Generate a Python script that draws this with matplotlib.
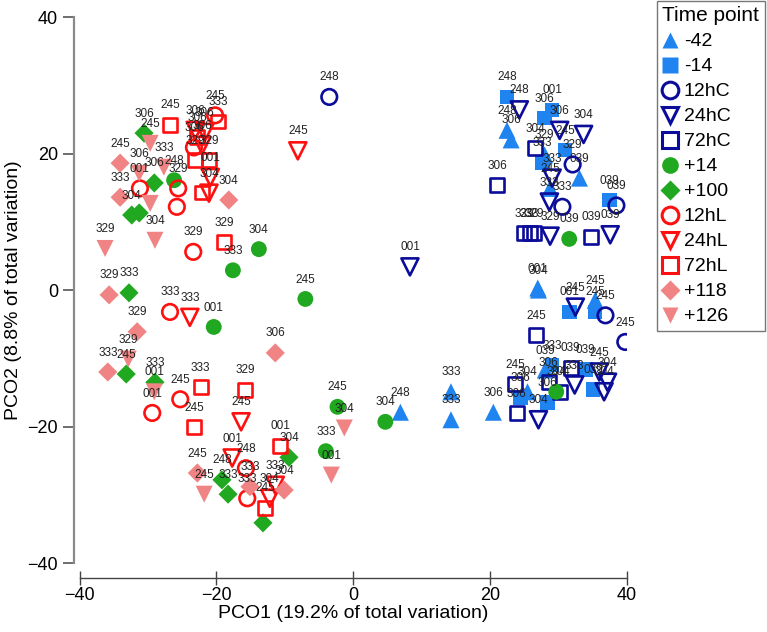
import matplotlib.pyplot as plt
from matplotlib.lines import Line2D

plt.rcParams['font.family'] = ['Liberation Sans', 'DejaVu Sans']

# -42 (filled blue triangles)
m42_x = [22.5, 23.1, 28.0, 33.1, 28.8, 27.1, 27.0, 35.4, 14.3, 14.3, 6.9, 20.5, 28.1, 25.5]
m42_y = [23.4, 22.0, 19.8, 16.4, 14.9, 0.0, 0.3, -1.5, -14.9, -19.0, -17.9, -17.9, -11.7, -14.9]
m42_lab = ['248', '306', '329', '039', '245', '304', '001', '245', '333', '333', '248', '306', '039', '304']

# -14 (filled blue squares)
m14_x = [22.5, 28.0, 29.1, 27.7, 31.0, 31.6, 35.4, 37.5, 29.1, 34.0, 35.1, 28.4, 24.5]
m14_y = [28.3, 25.2, 26.4, 18.7, 20.5, -3.2, -3.2, 13.2, -11.0, -11.6, -14.6, -16.5, -15.7]
m14_lab = ['248', '306', '001', '333', '245', '001', '245', '039', '333', '039', '039', '306', '306']

# 12hC (open navy circles)
c12_x = [-3.5, 32.1, 30.6, 38.5, 36.9, 39.8]
c12_y = [28.3, 18.4, 12.2, 12.4, -3.7, -7.6]
c12_lab = ['248', '329', '333', '039', '245', '245']

# 24hC (open navy down triangles)
c24_x = [24.3, 30.2, 33.7, 29.1, 28.7, 28.8, 37.6, 8.3, 32.5, 32.4, 36.0, 37.2, 36.7, 27.1]
c24_y = [26.4, 23.4, 22.8, 16.4, 12.9, 7.9, 8.1, 3.4, -2.5, -13.9, -12.0, -13.5, -14.9, -19.0]
c24_lab = ['248', '306', '304', '333', '333', '329', '039', '001', '245', '333', '245', '304', '304', '304']

# 72hC (open navy squares)
c72_x = [26.6, 21.1, 25.0, 25.8, 26.5, 34.8, 26.8, 28.6, 31.8, 30.3, 23.7, 23.9]
c72_y = [20.8, 15.4, 8.3, 8.3, 8.3, 7.8, -6.6, -13.5, -11.4, -14.9, -13.8, -18.0]
c72_lab = ['304', '306', '329', '333', '329', '039', '245', '306', '039', '304', '245', '306']

# +14 (filled green circles)
p14_x = [-26.2, -13.8, -17.6, -7.0, -20.4, -2.3, -4.0, 4.7, 31.6, 29.7]
p14_y = [16.1, 6.0, 2.9, -1.3, -5.4, -17.1, -23.6, -19.3, 7.5, -14.9]
p14_lab = ['248', '304', '333', '245', '001', '245', '333', '304', '039', '304']

# +100 (filled green diamonds)
p100_x = [-30.6, -29.1, -32.4, -31.3, -32.8, -33.2, -29.0, -9.4, -19.2, -18.3, -13.2]
p100_y = [23.0, 15.7, 11.0, 11.3, -0.4, -12.3, -13.5, -24.5, -27.8, -29.9, -34.1]
p100_lab = ['306', '306', '304', '', '333', '245', '333', '304', '248', '333', '']

# 12hL (open red circles)
l12_x = [-20.2, -23.3, -25.6, -25.8, -31.2, -23.4, -26.8, -25.3, -29.4, -15.7, -15.5]
l12_y = [25.6, 20.9, 14.9, 12.2, 14.9, 5.6, -3.2, -16.0, -18.0, -26.1, -30.5]
l12_lab = ['245', '306', '329', '', '001', '329', '333', '245', '001', '248', '333']

# 24hL (open red down triangles)
l24_x = [-23.1, -21.7, -22.1, -20.9, -21.1, -8.1, -23.9, -16.4, -17.7, -11.4, -12.2]
l24_y = [23.4, 23.1, 21.2, 16.5, 14.2, 20.4, -4.0, -19.3, -24.6, -28.6, -30.5]
l24_lab = ['306', '306', '306', '001', '304', '245', '333', '245', '001', '333', '304']

# 72hL (open red squares)
l72_x = [-26.8, -19.8, -22.8, -23.1, -21.1, -22.1, -18.9, -22.3, -15.8, -23.3, -10.7, -12.9]
l72_y = [24.2, 24.7, 22.4, 19.0, 19.0, 14.3, 7.0, -14.2, -14.6, -20.1, -22.8, -31.9]
l72_lab = ['245', '333', '306', '329', '329', '', '329', '333', '329', '245', '001', '245']

# +118 (filled pink diamonds)
p118_x = [-34.1, -34.1, -18.2, -35.7, -31.6, -35.9, -11.4, -22.8, -15.1, -10.1]
p118_y = [18.6, 13.6, 13.2, -0.7, -6.1, -12.0, -9.2, -26.8, -28.8, -29.3]
p118_lab = ['245', '333', '304', '329', '329', '333', '306', '245', '333', '304']

# +126 (filled pink down triangles)
p126_x = [-29.7, -31.3, -27.7, -29.7, -29.0, -36.3, -32.9, -29.1, -21.8, -1.3, -3.2]
p126_y = [21.5, 17.1, 18.0, 12.7, 7.3, 6.1, -10.1, -14.9, -29.9, -20.2, -27.1]
p126_lab = ['245', '306', '333', '', '304', '329', '329', '001', '245', '304', '001']

blue = '#1f84f0'
navy = '#0c0c9a'
green = '#20a820'
red = '#ff1010'
pink = '#f08484'

groups = [
    ('-42', m42_x, m42_y, m42_lab, '^', blue, True, 150),
    ('-14', m14_x, m14_y, m14_lab, 's', blue, True, 110),
    ('12hC', c12_x, c12_y, c12_lab, 'o', navy, False, 125),
    ('24hC', c24_x, c24_y, c24_lab, 'v', navy, False, 150),
    ('72hC', c72_x, c72_y, c72_lab, 's', navy, False, 100),
    ('+14', p14_x, p14_y, p14_lab, 'o', green, True, 130),
    ('+100', p100_x, p100_y, p100_lab, 'D', green, True, 95),
    ('12hL', l12_x, l12_y, l12_lab, 'o', red, False, 125),
    ('24hL', l24_x, l24_y, l24_lab, 'v', red, False, 150),
    ('72hL', l72_x, l72_y, l72_lab, 's', red, False, 100),
    ('+118', p118_x, p118_y, p118_lab, 'D', pink, True, 95),
    ('+126', p126_x, p126_y, p126_lab, 'v', pink, True, 150),
]

fig = plt.figure(figsize=(7.67, 6.32), dpi=100)
ax = fig.add_axes([0.104, 0.109, 0.713, 0.864])

handles = []
for name, xs, ys, labs, mk, col, filled, size in groups:
    if filled:
        ax.scatter(xs, ys, s=size, marker=mk, color=col, edgecolors='none', zorder=3)
    else:
        ax.scatter(xs, ys, s=size, marker=mk, facecolors='none', edgecolors=col,
                   linewidths=1.9, zorder=3)
    for x, y, t in zip(xs, ys, labs):
        if t:
            ax.annotate(t, (x, y), xytext=(0, 14), textcoords='offset points',
                        ha='center', va='center', fontsize=8.5, color='#222222', zorder=4)
    handles.append(Line2D([], [], linestyle='none', marker=mk, markersize=12 if mk != 'D' else 10,
                          markerfacecolor=col if filled else 'none',
                          markeredgecolor=col if not filled else 'none',
                          markeredgewidth=2.2, label=name))

ax.set_xlim(-40, 40)
ax.set_ylim(-40, 40)
ax.set_xticks([-40, -20, 0, 20, 40])
ax.set_yticks([-40, -20, 0, 20, 40])
ax.spines['top'].set_visible(False)
ax.spines['right'].set_visible(False)
ax.spines['left'].set_position(('outward', 4))
ax.spines['bottom'].set_position(('outward', 11))
ax.spines['left'].set_color('#8a8a8a')
ax.spines['left'].set_linewidth(1.6)
ax.spines['bottom'].set_color('#444444')
ax.spines['bottom'].set_linewidth(1.0)
ax.tick_params(axis='y', direction='out', length=8, width=1.2, color='#555555', labelsize=13)
ax.tick_params(axis='x', direction='inout', length=10, width=1.0, color='#444444', labelsize=13, pad=1)
ax.set_xlabel('PCO1 (19.2% of total variation)', fontsize=14, labelpad=1)
ax.set_ylabel('PCO2 (8.8% of total variation)', fontsize=14, labelpad=4)

leg = fig.legend(handles=handles, loc='upper left', bbox_to_anchor=(0.856, 0.999),
                 bbox_transform=fig.transFigure, title='Time point', fontsize=14,
                 title_fontsize=15, frameon=True, fancybox=False, edgecolor='#555555',
                 handlelength=0.8, handletextpad=0.3, labelspacing=0.38, borderpad=0.3,
                 borderaxespad=0, alignment='left')
leg.get_frame().set_linewidth(1.0)

fig.savefig('out.png', dpi=100)
